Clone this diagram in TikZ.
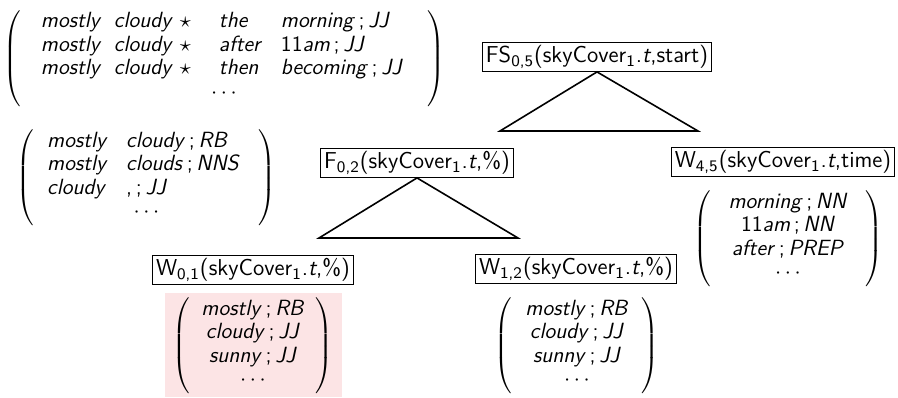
\RequirePackage{fix-cm}
\documentclass[tikz,border=0pt]{standalone}
\usepackage{fontspec}
\usepackage{array}
\usepackage{graphicx}
\definecolor{hl}{RGB}{252,228,229}
\newcommand\twice[1]{\scalebox{2}{#1}}
\newcommand\lo[1]{\textsubscript{#1}}
\newcommand\wt[2]{\textit{#1}\,;\,\textit{#2}}
\tikzset{
  lbl/.style={font=\sffamily\fontsize{11.5}{11.75}\selectfont, draw,
    line width=0.8pt, inner xsep=3.5pt, inner ysep=3pt},
  vec/.style={font=\sffamily\fontsize{11}{11.75}\selectfont, inner sep=0pt},
  tri/.style={line width=1.6pt, line join=miter}
}
\begin{document}
\begin{tikzpicture}[x=1pt,y=-1pt]
\useasboundingbox (0,0) rectangle (898,397);
% highlighted emission distribution
\fill[hl] (165,293) rectangle (342,397);

% field / word nodes
\node[lbl] (fs)  at (597,57)  {\twice{FS\lo{0,5}(skyCover\lo{1}.\textit{t},start)}};
\node[lbl] (f)   at (417,163) {\twice{F\lo{0,2}(skyCover\lo{1}.\textit{t},\%)}};
\node[lbl] (w45) at (783,162) {\twice{W\lo{4,5}(skyCover\lo{1}.\textit{t},time)}};
\node[lbl] (w01) at (253,270) {\twice{W\lo{0,1}(skyCover\lo{1}.\textit{t},\%)}};
\node[lbl] (w12) at (576,269) {\twice{W\lo{1,2}(skyCover\lo{1}.\textit{t},\%)}};

% subtrees
\coordinate (t1l) at (500,131);
\coordinate (t1r) at (698,131);
\draw[tri] (fs.south) -- (t1l) -- (t1r) -- cycle;
\coordinate (t2l) at (319,238);
\coordinate (t2r) at (518,238);
\draw[tri] (f.south) -- (t2l) -- (t2r) -- cycle;

% phrase vectors
\node[vec] (m1) at (224,58.5) {\twice{\setlength\tabcolsep{0pt}$\left(\begin{tabular}{@{\hspace{10pt}}w{l}{36.5pt}w{l}{33pt}w{l}{19.5pt}w{l}{31pt}l@{\hspace{12pt}}}
\textit{mostly} & \textit{cloudy} & $\star$ & \textit{the} & \wt{morning}{JJ}\\
\textit{mostly} & \textit{cloudy} & $\star$ & \textit{after} & 11\textit{am}\,;\,\textit{JJ}\\
\textit{mostly} & \textit{cloudy} & $\star$ & \textit{then} & \wt{becoming}{JJ}\\
\multicolumn{5}{c}{$\cdots$}
\end{tabular}\right)$}};

\node[vec] (m2) at (146.5,178) {\twice{\setlength\tabcolsep{0pt}$\left(\begin{tabular}{@{\hspace{6.5pt}}w{l}{39.5pt}l@{\hspace{9.5pt}}}
\textit{mostly} & \wt{cloudy}{RB}\\
\textit{mostly} & \wt{clouds}{NNS}\\
\textit{cloudy} & ,\,;\,\textit{JJ}\\
\multicolumn{2}{c}{$\cdots$}
\end{tabular}\right)$}};

\node[vec] (m45) at (788,239) {\twice{\setlength\tabcolsep{0pt}$\left(\begin{tabular}{@{\hspace{9pt}}c@{\hspace{9pt}}}
\wt{morning}{NN}\\
11\textit{am}\,;\,\textit{NN}\\
\wt{after}{PREP}\\
$\cdots$
\end{tabular}\right)$}};

\node[vec] (m01) at (253,346) {\twice{\setlength\tabcolsep{0pt}$\left(\begin{tabular}{@{\hspace{5.5pt}}c@{\hspace{5.5pt}}}
\wt{mostly}{RB}\\
\wt{cloudy}{JJ}\\
\wt{sunny}{JJ}\\
$\cdots$
\end{tabular}\right)$}};

\node[vec] (m12) at (577,346) {\twice{\setlength\tabcolsep{0pt}$\left(\begin{tabular}{@{\hspace{6.5pt}}c@{\hspace{6.5pt}}}
\wt{mostly}{RB}\\
\wt{cloudy}{JJ}\\
\wt{sunny}{JJ}\\
$\cdots$
\end{tabular}\right)$}};
\end{tikzpicture}
\end{document}
